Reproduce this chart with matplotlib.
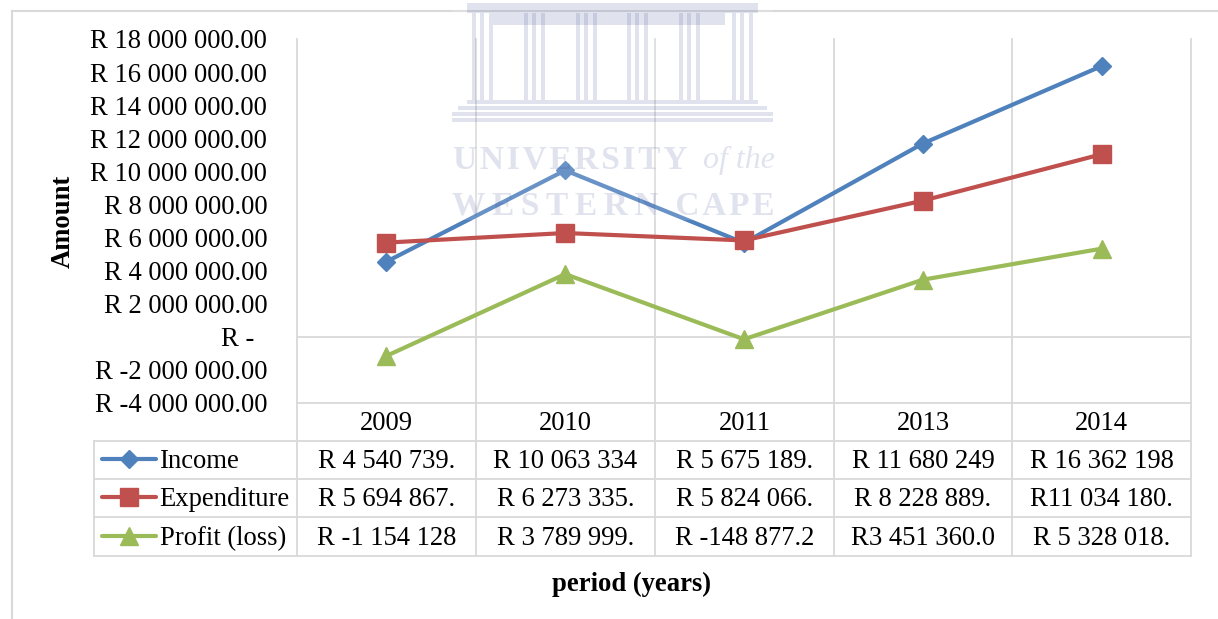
#!/usr/bin/env python3
"""Income, expenditure and profit per year, with a data table under the chart."""

import matplotlib
matplotlib.use("Agg")
import matplotlib.pyplot as plt
from matplotlib.patches import Rectangle

plt.rcParams["font.family"] = ["Liberation Serif", "DejaVu Serif"]

YEARS = ["2009", "2010", "2011", "2013", "2014"]
SERIES_NAMES = ["Income", "Expenditure", "Profit (loss)"]
INCOME = [4540739, 10063334, 5675189, 11680249, 16362198]
EXPENDITURE = [5694867, 6273335, 5824066, 8228889, 11034180]
PROFIT = [-1154128, 3789999, -148877, 3451360, 5328018]
Y_TICKS = [-4e6, -2e6, 0, 2e6, 4e6, 6e6, 8e6, 10e6, 12e6, 14e6, 16e6, 18e6]
Y_LABELS = [
    "R -4 000 000.00", "R -2 000 000.00", "R -  ", "R 2 000 000.00",
    "R 4 000 000.00", "R 6 000 000.00", "R 8 000 000.00", "R 10 000 000.00",
    "R 12 000 000.00", "R 14 000 000.00", "R 16 000 000.00", "R 18 000 000.00",
]
INCOME_CELLS = ["R 4 540 739.", "R 10 063 334", "R 5 675 189.", "R 11 680 249", "R 16 362 198"]
EXPENDITURE_CELLS = ["R 5 694 867.", "R 6 273 335.", "R 5 824 066.", "R 8 228 889.", "R11 034 180."]
PROFIT_CELLS = ["R -1 154 128", "R 3 789 999.", "R -148 877.2", "R3 451 360.0", "R 5 328 018."]

COLORS = ["#4F81BD", "#C0504D", "#9BBB59"]
MARKERS = ["D", "s", "^"]
MARKER_SIZES = [9.5, 13, 13]
GRID = "#D9D9D9"
FONT_SIZE = 19.2
W, H = 1218, 619
COLUMN_X = [297, 476, 655, 834, 1012, 1191]
ROW_Y = [441, 479, 517, 556]
MARK = "#2A3C8C"


def frame_lines(ax):
    ax.plot([12, 12], [11, H], color=GRID, lw=1.5)
    ax.plot([12, W], [11, 11], color=GRID, lw=1.5)
    for x in COLUMN_X:
        ax.plot([x, x], [39, ROW_Y[-1]], color=GRID, lw=1.3)
    ax.plot([94, 94], [ROW_Y[0], ROW_Y[-1]], color=GRID, lw=1.3)
    ax.plot([COLUMN_X[0], COLUMN_X[-1]], [337, 337], color=GRID, lw=1.3)
    ax.plot([COLUMN_X[0], COLUMN_X[-1]], [403, 403], color=GRID, lw=1.3)
    for y in ROW_Y:
        ax.plot([94, COLUMN_X[-1]], [y, y], color=GRID, lw=1.3)


def data_table(ax):
    for i, year in enumerate(YEARS):
        cx = (COLUMN_X[i] + COLUMN_X[i + 1]) / 2
        ax.text(cx, 424, year, ha="center", va="center", fontsize=FONT_SIZE)
    rows = [INCOME_CELLS, EXPENDITURE_CELLS, PROFIT_CELLS]
    for r, cells in enumerate(rows):
        cy = (ROW_Y[r] + ROW_Y[r + 1]) / 2
        ax.plot([102, 156], [cy - 1, cy - 1], color=COLORS[r], lw=3,
                solid_capstyle="round")
        ax.plot([129], [cy - 1], marker=MARKERS[r], ms=MARKER_SIZES[r], color=COLORS[r])
        ax.text(159.5, cy + 2, SERIES_NAMES[r], ha="left", va="center", fontsize=FONT_SIZE)
        for i, cell in enumerate(cells):
            cx = (COLUMN_X[i] + COLUMN_X[i + 1]) / 2
            ax.text(cx, cy + 2, cell, ha="center", va="center", fontsize=FONT_SIZE)


def watermark(ax):
    # washes out whatever sits behind the crest
    ax.add_patch(Rectangle((452, 0), 321, 220, color="white", alpha=0.15, lw=0))
    kw = dict(color=MARK, alpha=0.14, lw=0)
    ax.add_patch(Rectangle((467, 3), 291, 10, **kw))
    ax.add_patch(Rectangle((493, 13), 232, 12, **kw))
    for cx in [483, 535, 587, 638, 690, 743]:
        for dx in [-11, -3, 6]:
            ax.add_patch(Rectangle((cx + dx, 13), 4, 87, **kw))
    ax.add_patch(Rectangle((467, 100), 291, 4, **kw))
    ax.add_patch(Rectangle((458, 106), 309, 4, **kw))
    ax.add_patch(Rectangle((452, 112), 321, 4, **kw))
    ax.add_patch(Rectangle((452, 118), 321, 4, **kw))
    style = dict(color=MARK, alpha=0.14, va="center", fontsize=24, fontweight="bold")
    ax.text(453, 160, "\u200a".join("UNIVERSITY"), ha="left", **style)
    ax.text(703, 160, "of the", ha="left", color=MARK, alpha=0.14, va="center",
            fontsize=23, style="italic")
    ax.text(613, 206, "\u2009".join("WESTERN") + "  " + "\u200a".join("CAPE"),
            ha="center", **style)


def main():
    fig = plt.figure(figsize=(W / 100, H / 100), dpi=100)

    back = fig.add_axes([0, 0, 1, 1], zorder=0)
    back.set_xlim(0, W)
    back.set_ylim(H, 0)
    back.axis("off")
    frame_lines(back)
    data_table(back)
    back.text(63, 221, "Amount", rotation=90, ha="center", va="center",
              fontsize=FONT_SIZE, fontweight="bold")
    back.text(631, 584, "period (years)", ha="center", va="center",
              fontsize=FONT_SIZE, fontweight="bold")

    ax = fig.add_axes([297 / W, (H - 403) / H, 894 / W, 364 / H], zorder=1)
    ax.patch.set_alpha(0)
    for i, values in enumerate([INCOME, EXPENDITURE, PROFIT]):
        ax.plot(range(len(YEARS)), values, color=COLORS[i], lw=3,
                marker=MARKERS[i], ms=MARKER_SIZES[i], label=SERIES_NAMES[i])
    ax.set_xlim(-0.5, len(YEARS) - 0.5)
    ax.set_ylim(Y_TICKS[0], Y_TICKS[-1])
    ax.set_yticks(Y_TICKS)
    ax.set_yticklabels(Y_LABELS, fontsize=FONT_SIZE)
    ax.tick_params(axis="y", length=0, pad=21.5)
    ax.set_xticks([])
    for spine in ax.spines.values():
        spine.set_visible(False)

    top = fig.add_axes([0, 0, 1, 1], zorder=2)
    top.patch.set_alpha(0)
    top.set_xlim(0, W)
    top.set_ylim(H, 0)
    top.axis("off")
    watermark(top)

    fig.savefig("out.png", dpi=100)


if __name__ == "__main__":
    main()
